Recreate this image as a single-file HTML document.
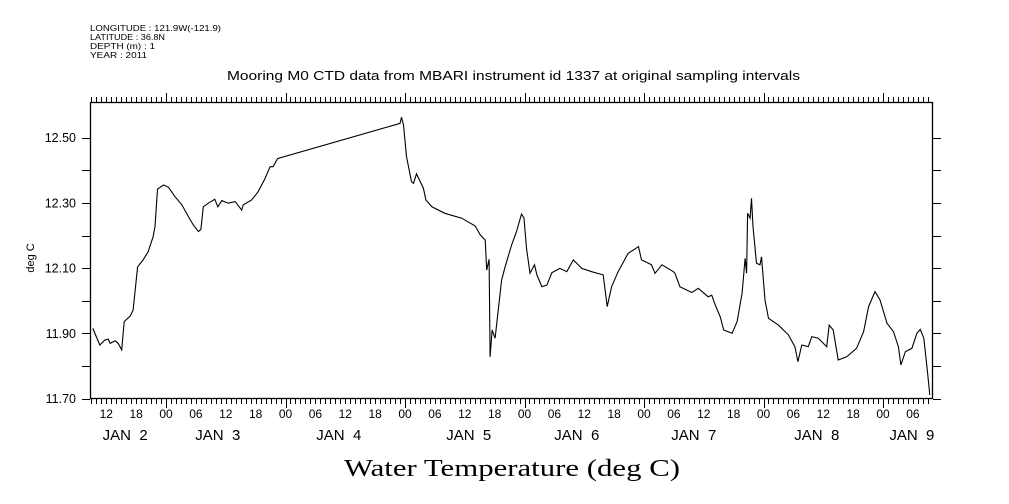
<!DOCTYPE html>
<html><head><meta charset="utf-8">
<style>
html,body{margin:0;padding:0;background:#fff;}
svg{display:block;font-family:"Liberation Sans",sans-serif;}
</style></head>
<body>
<svg id="chart" width="1009" height="504" viewBox="0 0 1009 504" xmlns="http://www.w3.org/2000/svg">
<g font-size="8.5" fill="#000">
<text x="90" y="31" textLength="131" lengthAdjust="spacingAndGlyphs">LONGITUDE : 121.9W(-121.9)</text>
<text x="90" y="40" textLength="75" lengthAdjust="spacingAndGlyphs">LATITUDE : 36.8N</text>
<text x="90" y="49" textLength="65" lengthAdjust="spacingAndGlyphs">DEPTH (m) : 1</text>
<text x="90" y="58" textLength="57" lengthAdjust="spacingAndGlyphs">YEAR : 2011</text>
</g>
<text x="227" y="80" font-size="12.5" textLength="573" lengthAdjust="spacingAndGlyphs">Mooring M0 CTD data from MBARI instrument id 1337 at original sampling intervals</text>
<text transform="translate(34,258) rotate(-90)" font-size="11" text-anchor="middle">deg C</text>
<text x="344" y="476" font-family="Liberation Serif, serif" font-size="24" textLength="336" lengthAdjust="spacingAndGlyphs">Water Temperature (deg C)</text>
<rect x="90.5" y="102.5" width="842" height="296" fill="none" stroke="#000" stroke-width="1.3"/>
<g id="axes"></g>
<path id="series" fill="none" stroke="#000" stroke-width="1.1"/>
</svg>
<script>
const hours = [-14.7,-13.3,-12.3,-11.6,-11.2,-10.2,-9.6,-8.9,-8.4,-7.2,-6.6,-5.7,-4.6,-3.6,-2.6,-2.2,-1.7,-0.5,0.5,1.8,3.2,4.5,5.5,6.5,7.0,7.5,8.5,9.8,10.4,11.2,12.5,13.9,15.2,15.5,17.2,18.5,19.9,20.9,21.5,22.4,47.0,47.3,47.7,48.3,49.3,49.7,50.3,51.7,52.2,53.4,56.0,59.4,62.1,63.1,64.1,64.4,64.9,65.1,65.5,66.1,67.4,68.1,69.4,70.4,71.4,71.9,72.4,73.1,74.0,74.5,75.5,76.5,77.5,79.1,80.5,81.8,83.5,85.5,87.8,88.6,89.5,90.8,92.8,94.9,95.5,97.5,98.2,99.6,101.9,102.2,103.2,105.6,106.9,108.9,109.6,110.3,111.3,112.0,113.7,114.7,115.7,116.3,116.6,116.8,117.3,117.6,117.9,118.6,119.3,119.6,120.3,121.0,123.0,125.0,126.3,126.9,127.7,129.0,129.7,131.0,132.7,133.2,134.0,135.0,136.7,138.7,140.1,141.1,142.4,143.4,144.8,146.1,147.1,147.6,148.5,149.8,150.8,151.5,152.2,152.9,153.4];
const temps = [11.915,11.864,11.879,11.882,11.869,11.877,11.869,11.849,11.936,11.953,11.971,12.104,12.125,12.150,12.196,12.227,12.342,12.355,12.348,12.319,12.294,12.258,12.232,12.212,12.219,12.288,12.299,12.311,12.288,12.307,12.299,12.304,12.278,12.294,12.309,12.334,12.375,12.411,12.411,12.436,12.544,12.563,12.539,12.442,12.365,12.360,12.389,12.345,12.309,12.288,12.268,12.253,12.229,12.202,12.186,12.094,12.127,11.828,11.910,11.885,12.063,12.104,12.171,12.212,12.266,12.253,12.161,12.084,12.110,12.079,12.043,12.048,12.086,12.099,12.089,12.125,12.099,12.089,12.079,11.982,12.043,12.089,12.145,12.166,12.125,12.110,12.084,12.110,12.089,12.084,12.043,12.025,12.038,12.012,12.017,11.987,11.951,11.910,11.900,11.936,12.023,12.130,12.084,12.268,12.253,12.314,12.227,12.115,12.110,12.135,12.002,11.946,11.925,11.895,11.859,11.813,11.864,11.859,11.890,11.885,11.859,11.925,11.910,11.818,11.828,11.854,11.905,11.982,12.028,12.002,11.931,11.905,11.859,11.803,11.844,11.854,11.900,11.912,11.885,11.787,11.711];
const yTickLabels = ["11.70","11.90","12.10","12.30","12.50"];
const hourTickLabels = ["00","06","12","18"];
const dayLabels = ["JAN  2","JAN  3","JAN  4","JAN  5","JAN  6","JAN  7","JAN  8","JAN  9"];
const dayLabelHours = [-8.2,10.4,34.7,60.8,82.5,106.0,130.7,149.8];

const X0 = 166, PX_PER_HOUR = 119.5/24;
const Y_BOTTOM = 398.5, PX_PER_DEG = 326;
function xScale(h){ return X0 + h*PX_PER_HOUR; }
function yScale(v){ return Y_BOTTOM - (v-11.70)*PX_PER_DEG; }
const NS = "http://www.w3.org/2000/svg";
const axes = document.getElementById('axes');
function line(x1,y1,x2,y2,name){
  const l = document.createElementNS(NS,'line');
  l.setAttribute('x1',x1);l.setAttribute('y1',y1);l.setAttribute('x2',x2);l.setAttribute('y2',y2);
  l.setAttribute('stroke','#000');l.setAttribute('stroke-width','1');
  
  
  axes.appendChild(l);
}
function text(x,y,s,size,anchor,name){
  const t = document.createElementNS(NS,'text');
  t.setAttribute('x',x);t.setAttribute('y',y);t.setAttribute('font-size',size);
  t.setAttribute('text-anchor',anchor);t.setAttribute('style','white-space:pre');
  t.textContent = s;
  
  
  axes.appendChild(t);
}
for(let h=-15; h<=154; h++){
  const x = Math.round(xScale(h))+0.5;
  if(x<91 || x>932) continue;
  const major = ((h%24)+24)%24===0;
  const len = major?9:5;
  line(x,399,x,399+len,'x-tick');
  line(x,102,x,102-len,'x-tick-top');
}
for(let h=-12; h<=150; h+=6){
  const idx = (((h%24)+24)%24)/6;
  text(xScale(h), 418, hourTickLabels[idx], 12, 'middle', 'x-hour-label');
}
dayLabels.forEach((d,i)=>{ text(xScale(dayLabelHours[i]), 440, d, 15, 'middle', 'x-day-label'); });
for(let k=0;k<=8;k++){
  const v = 11.70 + k*0.1;
  const y = Math.round(yScale(v))+0.5;
  line(82,y,90,y,'y-tick');
  line(933,y,941,y,'y-tick-right');
}
yTickLabels.forEach(s=>{ text(76, yScale(parseFloat(s))+4.5, s, 12.5, 'end', 'y-tick-label'); });
let d = '';
hours.forEach((h,i)=>{ d += (i?'L':'M') + xScale(h).toFixed(1) + ' ' + yScale(temps[i]).toFixed(1) + ' '; });
document.getElementById('series').setAttribute('d', d);
</script>
</body></html>
